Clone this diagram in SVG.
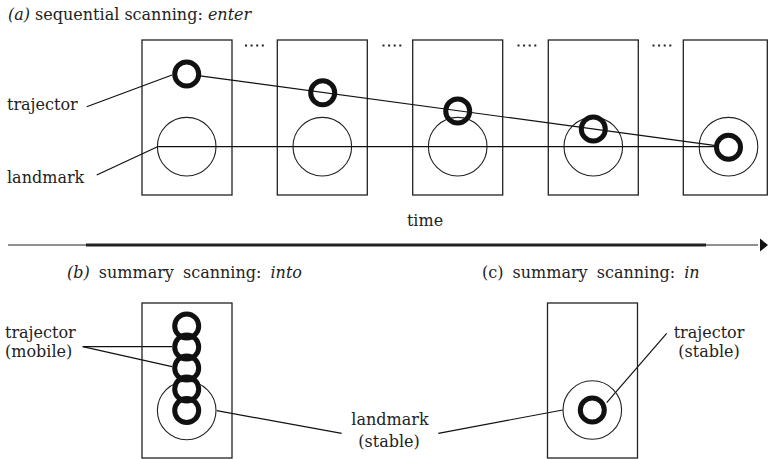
<svg xmlns="http://www.w3.org/2000/svg" width="768" height="459" viewBox="0 0 768 459">
<style>
text{font-family:"DejaVu Serif","Liberation Serif",serif;font-size:16px;fill:#222}
.it{font-style:italic}
.box{fill:none;stroke:#222;stroke-width:1.3}
.lm{fill:none;stroke:#222;stroke-width:1.1}
.tr{fill:#fff;stroke:#111;stroke-width:5}
.tr2{fill:none;stroke:#111;stroke-width:5}
.ln{fill:none;stroke:#111;stroke-width:1.2}
.dots{fill:none;stroke:#222;stroke-width:2;stroke-dasharray:2 3.6}
</style>
<rect width="768" height="459" fill="#fff"/>

<!-- (a) -->
<text x="8" y="20"><tspan class="it">(a)</tspan> sequential scanning: <tspan class="it">enter</tspan></text>
<text x="7" y="110">trajector</text>
<text x="7" y="182.5">landmark</text>

<g id="frame1"><rect class="box" x="142" y="40" width="90" height="155"/><circle class="lm" cx="186.7" cy="146.7" r="29.3"/></g>
<g id="frame2"><rect class="box" x="277.3" y="40" width="90" height="155"/><circle class="lm" cx="322.3" cy="146.7" r="29.3"/></g>
<g id="frame3"><rect class="box" x="412.7" y="40" width="90" height="155"/><circle class="lm" cx="457.7" cy="146.7" r="29.3"/></g>
<g id="frame4"><rect class="box" x="548.3" y="40" width="90" height="155"/><circle class="lm" cx="593.3" cy="146.7" r="29.3"/></g>
<g id="frame5"><rect class="box" x="683.3" y="40" width="84" height="155"/><circle class="lm" cx="728.5" cy="146.7" r="29.3"/></g>

<g id="ellipses">
<line class="dots" x1="245" y1="45.5" x2="266" y2="45.5"/>
<line class="dots" x1="382.5" y1="45.5" x2="403.5" y2="45.5"/>
<line class="dots" x1="517.5" y1="45.5" x2="538.5" y2="45.5"/>
<line class="dots" x1="652.5" y1="45.5" x2="673.5" y2="45.5"/>
</g>

<g id="connectors">
<line class="ln" x1="200" y1="75.8" x2="716" y2="145.6"/>
<line class="ln" x1="157.5" y1="146.7" x2="716" y2="146.7"/>
<line class="ln" x1="86.7" y1="106.7" x2="172" y2="75"/>
<line class="ln" x1="96.7" y1="175" x2="157.5" y2="146.7"/>
<line class="ln" x1="82.7" y1="346.7" x2="172" y2="346.7"/>
<line class="ln" x1="82.7" y1="346.7" x2="172" y2="366.7"/>
<line class="ln" x1="216.7" y1="410.7" x2="341.7" y2="433.3"/>
<line class="ln" x1="438.3" y1="433.3" x2="562.8" y2="410"/>
<line class="ln" x1="606.7" y1="402.7" x2="666.7" y2="333.3"/>
</g>

<g id="trajectors-a">
<circle class="tr2" cx="186.7" cy="74" r="12"/>
<circle class="tr2" cx="322.7" cy="92.7" r="12"/>
<circle class="tr2" cx="457.7" cy="111" r="12"/>
<circle class="tr2" cx="593.3" cy="129" r="12"/>
<circle class="tr" cx="728.5" cy="147.3" r="12"/>
</g>

<!-- time axis -->
<g id="time-axis">
<text x="425" y="226" text-anchor="middle">time</text>
<line x1="8" y1="245" x2="758" y2="245" stroke="#222" stroke-width="1.2"/>
<line x1="86" y1="245" x2="706" y2="245" stroke="#222" stroke-width="2.8"/>
<polygon points="760,238.5 768,245 760,251.5" fill="#111"/>
</g>

<!-- (b) -->
<text x="67" y="278.3" word-spacing="4"><tspan class="it">(b)</tspan> summary scanning: <tspan class="it">into</tspan></text>
<g id="frame-b">
<rect class="box" x="142" y="303" width="90" height="155"/>
<circle class="lm" cx="186.7" cy="410.5" r="29.3"/>
<circle class="tr2" cx="186.7" cy="326" r="12"/>
<circle class="tr2" cx="186.7" cy="347" r="12"/>
<circle class="tr2" cx="186.7" cy="368" r="12"/>
<circle class="tr2" cx="186.7" cy="389" r="12"/>
<circle class="tr2" cx="186.7" cy="410.5" r="12"/>
</g>
<g id="label-mobile">
<text x="5" y="338.3">trajector</text>
<text x="5" y="356.7">(mobile)</text>
</g>
<g id="label-landmark">
<text x="390" y="425" text-anchor="middle">landmark</text>
<text x="389" y="446.5" text-anchor="middle">(stable)</text>
</g>

<!-- (c) -->
<text x="482" y="278.3" word-spacing="4">(c) summary scanning: <tspan class="it">in</tspan></text>
<g id="frame-c">
<rect class="box" x="547.5" y="303" width="90" height="155"/>
<circle class="lm" cx="592.3" cy="410" r="29.3"/>
<circle class="tr" cx="592.3" cy="410" r="12"/>
</g>
<g id="label-stable">
<text x="709" y="338.3" text-anchor="middle">trajector</text>
<text x="709" y="356.7" text-anchor="middle">(stable)</text>
</g>
</svg>
